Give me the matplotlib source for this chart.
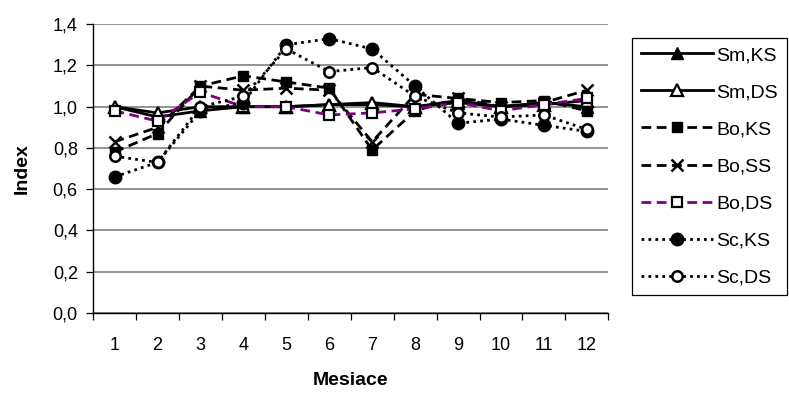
import numpy as np
import matplotlib.pyplot as plt
from matplotlib.ticker import FuncFormatter, FixedLocator

plt.rcParams['font.family'] = ['Liberation Sans', 'DejaVu Sans']

months = np.arange(1, 13)
month_labels = [str(m) for m in months]

sm_ks = [1.00, 0.95, 0.98, 1.00, 1.00, 1.01, 1.01, 1.00, 1.02, 1.00, 1.02, 1.00]
sm_ds = [1.00, 0.97, 1.00, 1.00, 1.00, 1.01, 1.02, 1.00, 1.03, 1.00, 1.01, 1.03]
bo_ks = [0.78, 0.87, 1.10, 1.15, 1.12, 1.09, 0.79, 0.98, 1.04, 1.02, 1.03, 0.98]
bo_ss = [0.83, 0.90, 1.10, 1.08, 1.09, 1.08, 0.83, 1.06, 1.04, 1.00, 1.02, 1.08]
bo_ds = [0.98, 0.93, 1.07, 1.00, 1.00, 0.96, 0.97, 0.99, 1.02, 0.98, 1.01, 1.04]
sc_ks = [0.66, 0.73, 0.98, 1.02, 1.30, 1.33, 1.28, 1.10, 0.92, 0.94, 0.91, 0.88]
sc_ds = [0.76, 0.73, 1.00, 1.05, 1.28, 1.17, 1.19, 1.05, 0.97, 0.95, 0.96, 0.89]

fig = plt.figure(figsize=(7.89, 3.94), dpi=100)
ax = fig.add_axes([0.118, 0.2056, 0.653, 0.733])

lw = 2.0
dash = (3.5, 2)
dot = (1, 1.5)
ax.plot(months, sm_ks, '-', color='black', lw=lw, marker='^', ms=8, mfc='black', label='Sm,KS')
ax.plot(months, sm_ds, '-', color='black', lw=lw, marker='^', ms=8, mfc='white', mew=1.6, label='Sm,DS')
ax.plot(months, bo_ks, color='black', lw=lw, dashes=dash, marker='s', ms=7.5, mfc='black', label='Bo,KS')
ax.plot(months, bo_ss, color='black', lw=lw, dashes=dash, marker='x', ms=9, mew=1.8, label='Bo,SS')
ax.plot(months, bo_ds, color='#800080', lw=lw, dashes=dash, marker='s', ms=7.5, mfc='white', mec='black', mew=1.6, label='Bo,DS')
ax.plot(months, sc_ks, color='black', lw=lw, dashes=dot, marker='o', ms=9, mfc='black', label='Sc,KS')
ax.plot(months, sc_ds, color='black', lw=lw, dashes=dot, marker='o', ms=7.5, mfc='white', mew=1.8, label='Sc,DS')

ax.set_xlim(0.5, 12.5)
ax.set_ylim(0, 1.4)
ax.set_yticks(np.arange(0, 1.41, 0.2))
ax.yaxis.set_major_formatter(FuncFormatter(lambda v, p: f'{v:.1f}'.replace('.', ',')))
ax.set_xticks(months)
ax.set_xticklabels(month_labels)
ax.xaxis.set_minor_locator(FixedLocator(np.arange(0.5, 13, 1)))
ax.tick_params(axis='x', which='major', length=0, pad=17, labelsize=13)
ax.tick_params(axis='x', which='minor', length=5, width=0.9, direction='out')
ax.tick_params(axis='y', length=5, width=0.9, pad=6, labelsize=13)

ax.grid(axis='y', color='#808080', lw=1.2)
ax.set_axisbelow(True)
for s in ['top', 'right']:
    ax.spines[s].set_visible(False)
for s in ['left', 'bottom']:
    ax.spines[s].set_linewidth(1.0)
    ax.spines[s].set_zorder(3)

ax.set_xlabel('Mesiace', fontsize=14, fontweight='bold', labelpad=13)
ax.set_ylabel('Index', fontsize=14, fontweight='bold', labelpad=16)

leg = fig.legend(loc='upper left', bbox_to_anchor=(0.801, 0.904), numpoints=1,
                 fontsize=14, labelspacing=1.0, handlelength=3.7, handletextpad=0.2,
                 borderpad=0.45, borderaxespad=0, fancybox=False, framealpha=1,
                 edgecolor='black')
leg.get_frame().set_linewidth(0.9)

fig.savefig('out.png', dpi=100)
